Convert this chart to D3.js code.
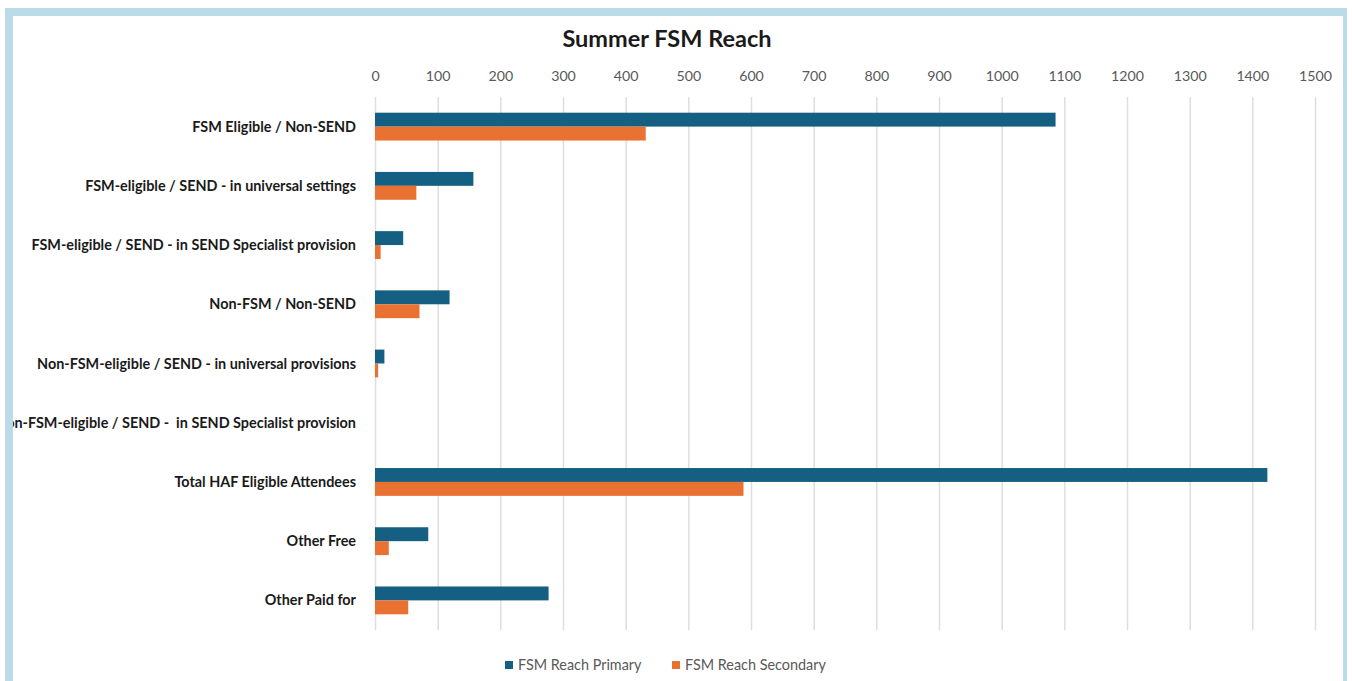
<!DOCTYPE html>
<html lang="en">
<head>
  <title>Summer FSM Reach</title>
  <meta charset="utf-8">
  <script src="https://d3js.org/d3.v7.min.js" charset="utf-8"></script>
  <style>
  body { margin: 0; background: #ffffff; }
  text { font-family: "Lato", "Open Sans", sans-serif; }
  </style>
</head>
<body>
  <script>
    var categories = [
      'FSM Eligible / Non-SEND',
      'FSM-eligible / SEND - in universal settings',
      'FSM-eligible / SEND - in SEND Specialist provision',
      'Non-FSM / Non-SEND',
      'Non-FSM-eligible / SEND - in universal provisions',
      'Non-FSM-eligible / SEND -  in SEND Specialist provision',
      'Total HAF Eligible Attendees',
      'Other Free',
      'Other Paid for'
    ];
    var primary = [1086, 157, 45, 119, 15, 0, 1424, 85, 277];
    var secondary = [432, 66, 9, 71, 5, 0, 588, 22, 53];
    var seriesNames = ['FSM Reach Primary', 'FSM Reach Secondary'];
    var tickValues = [0, 100, 200, 300, 400, 500, 600, 700, 800, 900, 1000, 1100, 1200, 1300, 1400, 1500];

    var w = 1352;
    var h = 681;
    var colors = ['#156082', '#e97132'];

    var svg = d3.select('body')
      .append('svg')
      .attr('width', w)
      .attr('height', h);

    // light blue frame round a white panel (no bottom edge visible)
    svg.append('rect')
      .attr('x', 5).attr('y', 8)
      .attr('width', 1347 - 5).attr('height', h)
      .attr('fill', '#bcdbe9');
    svg.append('rect')
      .attr('x', 13).attr('y', 16)
      .attr('width', 1343 - 13).attr('height', h)
      .attr('fill', '#ffffff');

    svg.append('clipPath').attr('id', 'panel')
      .append('rect')
      .attr('x', 13).attr('y', 16)
      .attr('width', 1343 - 13).attr('height', h);

    var chart = svg.append('g').attr('clip-path', 'url(#panel)');

    var x = d3.scaleLinear()
      .domain([0, 1500])
      .range([375, 1315]);

    var y = d3.scaleBand()
      .domain(categories)
      .range([97, 630])
      .paddingInner(0.53)
      .paddingOuter(0.265);

    var sub = d3.scaleBand()
      .domain(seriesNames)
      .range([0, y.bandwidth()]);

    // gridlines + tick labels
    var xAxis = chart.append('g')
      .attr('transform', 'translate(0,97)')
      .call(d3.axisTop(x).tickValues(tickValues).tickFormat(d3.format('d'))
        .tickSize(-533).tickPadding(16));
    xAxis.select('.domain').remove();
    xAxis.selectAll('line').attr('stroke', '#dedede').attr('stroke-width', 1.5);
    xAxis.selectAll('text')
      .attr('fill', '#595959')
      .attr('font-size', 14.2);

    var rows = categories.map(function(c, i) {
      return { cat: c, values: [primary[i], secondary[i]] };
    });

    var groups = chart.selectAll('.grp')
      .data(rows)
      .enter()
      .append('g')
      .attr('class', 'grp')
      .attr('transform', function(d) { return 'translate(0,' + y(d.cat) + ')'; });

    groups.selectAll('rect')
      .data(function(d) {
        return d.values.map(function(v, j) { return { name: seriesNames[j], v: v, j: j }; });
      })
      .enter()
      .append('rect')
      .attr('x', x(0))
      .attr('y', function(d) { return sub(d.name); })
      .attr('width', function(d) { return x(d.v) - x(0); })
      .attr('height', sub.bandwidth())
      .attr('fill', function(d) { return colors[d.j]; });

    // category labels, right aligned
    chart.selectAll('.cat')
      .data(categories)
      .enter()
      .append('text')
      .attr('class', 'cat')
      .attr('x', 356)
      .attr('y', function(d) { return y(d) + y.bandwidth() / 2; })
      .attr('dy', '0.35em')
      .attr('text-anchor', 'end')
      .attr('font-size', 14.4)
      .attr('font-weight', 'bold')
      .attr('fill', '#1a1a1a')
      .style('white-space', 'pre')
      .text(function(d) { return d; });

    // title
    svg.append('text')
      .attr('x', 667)
      .attr('y', 47)
      .attr('text-anchor', 'middle')
      .attr('font-size', 23.5)
      .attr('font-weight', 'bold')
      .attr('fill', '#1a1a1a')
      .text('Summer FSM Reach');

    // legend
    var legendX = [505, 672];
    var legend = svg.selectAll('.leg')
      .data(seriesNames)
      .enter()
      .append('g')
      .attr('class', 'leg')
      .attr('transform', function(d, i) { return 'translate(' + legendX[i] + ',665)'; });
    legend.append('rect')
      .attr('x', 0).attr('y', -4)
      .attr('width', 8).attr('height', 8)
      .attr('fill', function(d, i) { return colors[i]; });
    legend.append('text')
      .attr('x', 13)
      .attr('dy', '0.35em')
      .attr('font-size', 14.4)
      .attr('fill', '#595959')
      .text(function(d) { return d; });
  </script>
</body>
</html>
